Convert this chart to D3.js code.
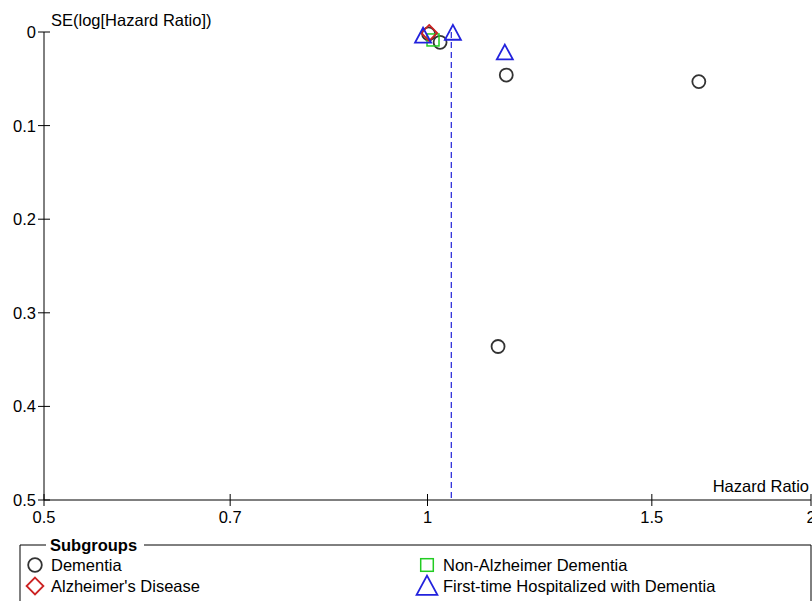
<!DOCTYPE html>
<html><head><meta charset="utf-8">
<script src="https://cdn.jsdelivr.net/npm/d3@7"></script>
<style>body{margin:0;background:#fff}svg{display:block;font-family:"Liberation Sans",Arial,sans-serif}</style>
</head><body><svg id="c" width="812" height="601"></svg>
<script>
const xTicks = [0.5, 0.7, 1, 1.5, 2];
const yTicks = [0, 0.1, 0.2, 0.3, 0.4, 0.5];
const subgroups = ["Dementia", "Alzheimer's Disease", "Non-Alzheimer Dementia", "First-time Hospitalized with Dementia"];
const dementiaHR = [1.002, 1.023, 1.153, 1.633, 1.136];
const dementiaSE = [0.002, 0.011, 0.046, 0.053, 0.336];
const alzHR = [1.003];
const alzSE = [0.001];
const nonAlzHR = [1.010];
const nonAlzSE = [0.0085];
const hospHR = [0.992, 1.047, 1.150];
const hospSE = [0.004, 0.001, 0.022];
const pooledHR = 1.044;

const FS = 16.5;
const svg = d3.select("#c");
const x = d3.scaleLog().domain([0.5, 2]).range([44, 811]);
const y = d3.scaleLinear().domain([0, 0.5]).range([32, 500]);

// y axis
const g = svg.append("g");
g.append("line").attr("x1",44).attr("x2",44).attr("y1",y(0)).attr("y2",y(0.5)).attr("stroke","#000");
yTicks.forEach(t=>{
  g.append("line").attr("x1",38).attr("x2",50).attr("y1",y(t)).attr("y2",y(t)).attr("stroke","#000");
  g.append("text").attr("x",36).attr("y",y(t)+6).attr("text-anchor","end").attr("font-size",FS).text(t===0?"0":String(t));
});
// x axis
g.append("line").attr("x1",x(0.5)).attr("x2",x(2)).attr("y1",500).attr("y2",500).attr("stroke","#000");
xTicks.forEach(t=>{
  g.append("line").attr("x1",x(t)).attr("x2",x(t)).attr("y1",494).attr("y2",506).attr("stroke","#000");
  g.append("text").attr("x",x(t)).attr("y",523).attr("text-anchor","middle").attr("font-size",FS).text(String(t));
});
g.append("text").attr("x",51).attr("y",26).attr("font-size",FS).text("SE(log[Hazard Ratio])");
g.append("text").attr("x",809).attr("y",492).attr("text-anchor","end").attr("font-size",FS).text("Hazard Ratio");

// dashed pooled line
svg.append("line").attr("x1",x(pooledHR)).attr("x2",x(pooledHR)).attr("y1",y(0)).attr("y2",y(0.5))
  .attr("stroke","#3333dd").attr("stroke-width",1.3).attr("stroke-dasharray","6,4");

const circleCol = "#333", diamondCol = "#cc2222", squareCol = "#22cc22", triCol = "#2222dd";
function marker(sel, type, cx, cy, s) {
  if (type==="circle") return sel.append("circle").attr("cx",cx).attr("cy",cy).attr("r",6.5*s)
    .attr("fill","none").attr("stroke",circleCol).attr("stroke-width",1.8);
  if (type==="diamond") { const r=8*s; return sel.append("path").attr("d",`M${cx},${cy-r}L${cx+r},${cy}L${cx},${cy+r}L${cx-r},${cy}Z`)
    .attr("fill","none").attr("stroke",diamondCol).attr("stroke-width",1.8); }
  if (type==="square") { const h=6*s; return sel.append("rect").attr("x",cx-h).attr("y",cy-h).attr("width",2*h).attr("height",2*h)
    .attr("fill","none").attr("stroke",squareCol).attr("stroke-width",1.5); }
  if (type==="triangle") { const h=8*s; return sel.append("path").attr("d",`M${cx},${cy-h}L${cx+h},${cy+h*0.85}L${cx-h},${cy+h*0.85}Z`)
    .attr("fill","none").attr("stroke",triCol).attr("stroke-width",1.8); }
}
const pts = svg.append("g");
dementiaHR.forEach((v,i)=>marker(pts,"circle",x(v),y(dementiaSE[i]),1));
nonAlzHR.forEach((v,i)=>marker(pts,"square",x(v),y(nonAlzSE[i]),1));
alzHR.forEach((v,i)=>marker(pts,"diamond",x(v),y(alzSE[i]),1));
hospHR.forEach((v,i)=>marker(pts,"triangle",x(v),y(hospSE[i]),1));

// legend
const L = svg.append("g");
L.append("path").attr("d","M46,545H20V610H811V545H144").attr("fill","none").attr("stroke","#000");
L.append("text").attr("x",50).attr("y",551).attr("font-size",FS).attr("font-weight","bold").text("Subgroups");
const lg = [["circle",35,565,0],["diamond",35,586,1],["square",427,565,2],["triangle",427,586,3]];
lg.forEach(([t,mx,my,i])=>{
  marker(L,t,mx,my,t==="triangle"?1.3:1.05);
  L.append("text").attr("x",mx+16).attr("y",my+6).attr("font-size",FS).text(subgroups[i]);
});
</script></body></html>
